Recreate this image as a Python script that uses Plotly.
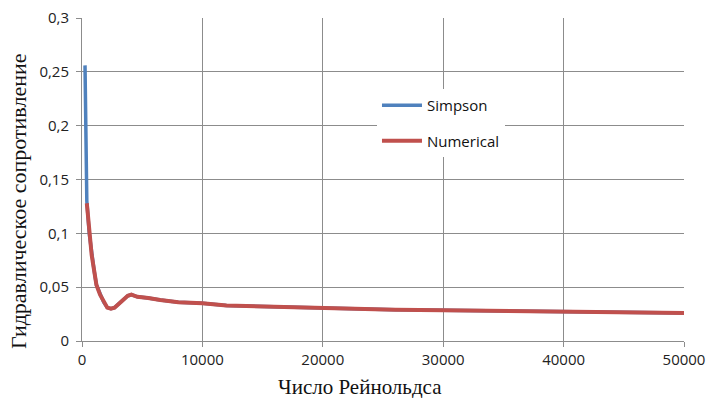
import plotly.graph_objects as go

re_simpson = [250, 400, 600, 800, 1000, 1200, 1500, 1800, 2100, 2400, 2700, 3000, 3400, 3800, 4100,
              4600, 5500, 6500, 8000, 10000, 12000, 15000, 18000, 22000, 26000, 30000, 34000,
              38000, 42000, 46000, 50000]
simpson = [0.256, 0.130, 0.100, 0.080, 0.066, 0.052, 0.043, 0.036, 0.031, 0.030, 0.031, 0.034, 0.038,
           0.042, 0.043, 0.041, 0.040, 0.038, 0.036, 0.035, 0.033, 0.032, 0.031, 0.030, 0.029,
           0.0285, 0.028, 0.0275, 0.027, 0.0265, 0.026]

re_numerical = re_simpson[1:]
numerical = [0.128, 0.100, 0.080, 0.066, 0.052, 0.043, 0.036, 0.031, 0.030, 0.031, 0.034, 0.038,
             0.042, 0.043, 0.041, 0.040, 0.038, 0.036, 0.035, 0.033, 0.032, 0.031, 0.030, 0.029,
             0.0285, 0.028, 0.0275, 0.027, 0.0265, 0.026]

x_ticks = [0, 10000, 20000, 30000, 40000, 50000]
x_ticklabels = ["0", "10000", "20000", "30000", "40000", "50000"]
y_ticks = [0, 0.05, 0.1, 0.15, 0.2, 0.25, 0.3]
y_ticklabels = ["0", "0,05", "0,1", "0,15", "0,2", "0,25", "0,3"]
x_title = "Число Рейнольдса"
y_title = "Гидравлическое сопротивление"

fig = go.Figure()
fig.add_trace(go.Scatter(x=re_simpson, y=simpson, mode="lines", name="Simpson",
                         line=dict(color="#4F81BD", width=3.5), legendgroup="a"))
fig.add_trace(go.Scatter(x=re_numerical, y=numerical, mode="lines", name="Numerical",
                         line=dict(color="#C0504D", width=4), legendgroup="b"))

grid = "#8c8c8c"
title_font = dict(family="Liberation Serif, serif", size=21, color="#111")
fig.update_layout(
    width=708, height=398,
    margin=dict(l=82, r=24, t=18, b=57),
    plot_bgcolor="white", paper_bgcolor="white",
    font=dict(family="Open Sans, Liberation Sans, sans-serif", size=15, color="#222"),
    legend=dict(x=0.49, y=0.78, xanchor="left", yanchor="top", bgcolor="white",
                tracegroupgap=13, font=dict(size=15, color="#111"),
                itemwidth=40, entrywidth=140, borderwidth=0),
    xaxis=dict(range=[0, 50000], tickvals=x_ticks, ticktext=x_ticklabels, automargin=False,
               showgrid=True, gridcolor=grid, gridwidth=1,
               showline=True, linecolor=grid, linewidth=1,
               ticks="outside", ticklen=5, tickcolor=grid, zeroline=False),
    yaxis=dict(range=[0, 0.3], tickvals=y_ticks, ticktext=y_ticklabels, automargin=False,
               showgrid=True, gridcolor=grid, gridwidth=1,
               showline=True, linecolor=grid, linewidth=1,
               ticks="outside", ticklen=5, tickcolor=grid, zeroline=False,
               ticklabelstandoff=4),
    annotations=[
        dict(text=x_title, xref="paper", yref="paper", x=(360 - 82) / 602, y=-(387 - 341) / 323,
             xanchor="center", yanchor="middle", showarrow=False, font=title_font),
        dict(text=y_title, xref="paper", yref="paper", x=(18 - 82) / 602, y=(341 - 201) / 323,
             xanchor="center", yanchor="middle", showarrow=False, textangle=-90,
             font=dict(family="Liberation Serif, serif", size=22, color="#111")),
    ],
)

fig.write_html("out.html", config={"displayModeBar": False},
               post_script="document.body.style.margin='0';document.body.style.overflow='hidden';")
